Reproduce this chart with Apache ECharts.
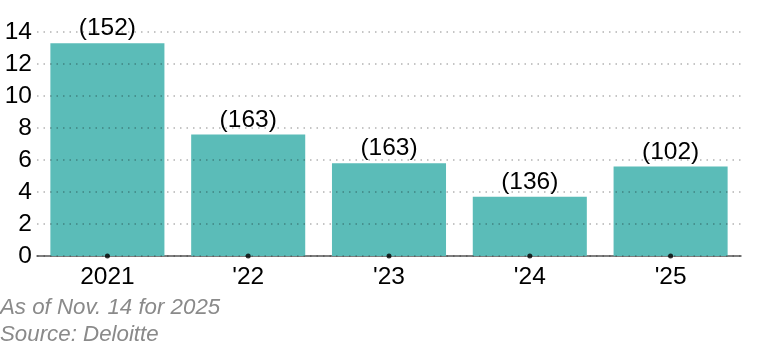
<!DOCTYPE html>
<html><head><meta charset="utf-8">
<script src="https://cdn.jsdelivr.net/npm/echarts@6/dist/echarts.min.js"></script>
<style>html,body{margin:0;padding:0;background:#fff}#c{width:769px;height:347px}</style>
</head><body><div id="c"></div>
<script>
const categories = ["2021", "'22", "'23", "'24", "'25"];
const values = [13.3, 7.6, 5.8, 3.7, 5.6];
const counts = ["(152)", "(163)", "(163)", "(136)", "(102)"];
const yTicks = [0, 2, 4, 6, 8, 10, 12, 14];
const notes = ["As of Nov. 14 for 2025", "Source: Deloitte"];

const FONT = 'Liberation Sans, Arial, sans-serif';
const chart = echarts.init(document.getElementById('c'), null, {renderer: 'canvas'});
chart.setOption({
  animation: false,
  backgroundColor: '#fff',
  grid: {left: 37, right: 28, top: 32, bottom: 91, containLabel: false},
  xAxis: {
    type: 'category', data: categories,
    axisLine: {show: true, lineStyle: {color: '#555', width: 1.5}},
    axisTick: {show: false},
    axisLabel: {color: '#000', fontSize: 24.5, fontFamily: FONT, margin: 9}
  },
  yAxis: {
    type: 'value', min: yTicks[0], max: yTicks[yTicks.length - 1], interval: 2, z: 5,
    axisLine: {show: false}, axisTick: {show: false},
    axisLabel: {color: '#000', fontSize: 24.5, fontFamily: FONT, margin: 5},
    splitLine: {show: true, lineStyle: {color: 'rgba(0,0,0,0.3)', type: [1.5, 5], width: 1.5}}
  },
  series: [
    {
      type: 'bar', data: values, barCategoryGap: '19%',
      itemStyle: {color: '#5bbcb8'},
      label: {
        show: true, position: 'top', distance: 2, color: '#000', fontSize: 24.5, fontFamily: FONT,
        formatter: p => counts[p.dataIndex]
      },
      z: 2
    },
    {
      type: 'scatter', data: categories.map(c => [c, 0]),
      symbol: 'circle', symbolSize: 5, itemStyle: {color: '#000'}, z: 10, silent: true
    }
  ],
  graphic: [
    {type: 'text', left: 0, top: 297, style: {text: notes[0], fill: '#8a8a8a', fontSize: 22.3, fontStyle: 'italic', fontFamily: FONT}},
    {type: 'text', left: 0, top: 324, style: {text: notes[1], fill: '#8a8a8a', fontSize: 22.3, fontStyle: 'italic', fontFamily: FONT}}
  ]
});
</script></body></html>
